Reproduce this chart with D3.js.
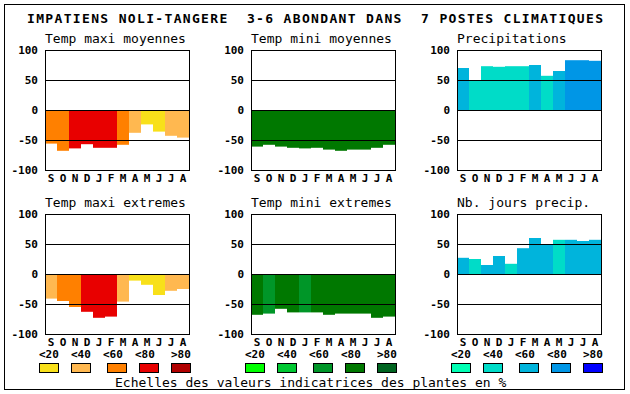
<!DOCTYPE html>
<html lang="fr">
<head>
<meta charset="UTF-8">
<title>Impatiens noli-tangere</title>
<script src="https://d3js.org/d3.v7.min.js"></script>
<style>
  body { margin: 0; background: #fff; }
  text { font-family: "DejaVu Sans Mono", monospace; fill: #000; }
  .bold { font-weight: bold; }
</style>
</head>
<body>
<script>
// months shown under each panel
var months = ["S", "O", "N", "D", "J", "F", "M", "A", "M", "J", "J", "A"];
var tickVals = [100, 50, 0, -50, -100];
var legendLabels = ["<20", "<40", "<60", "<80", ">80"];

// palettes (5 classes each)
var warmCols = ["#f8e01a", "#ffb850", "#ff8000", "#e80000", "#b00000"];
var greenCols = ["#00ff00", "#00c832", "#009628", "#007800", "#006420"];
var blueCols = ["#00ffb4", "#00dcc8", "#00b4dc", "#0096e6", "#0000ff"];

// values and class index per month
var maxiMoyVals = [-56, -68, -64, -57, -63, -63, -58, -38, -24, -36, -43, -46];
var maxiMoyCls  = [2, 2, 3, 3, 3, 3, 2, 1, 0, 0, 1, 1];
var miniMoyVals = [-61, -58, -61, -63, -64, -63, -66, -68, -66, -66, -63, -58];
var miniMoyCls  = [3, 3, 3, 3, 3, 3, 3, 3, 3, 3, 3, 3];
var precVals = [70, 50, 73, 72, 73, 73, 75, 57, 65, 83, 83, 82];
var precCls  = [2, 1, 1, 1, 1, 1, 2, 1, 2, 3, 3, 3];
var maxiExtVals = [-41, -45, -55, -63, -73, -71, -46, -11, -18, -35, -28, -25];
var maxiExtCls  = [1, 2, 2, 3, 3, 3, 1, 0, 0, 0, 1, 1];
var miniExtVals = [-68, -66, -58, -64, -64, -64, -68, -66, -66, -66, -73, -71];
var miniExtCls  = [3, 2, 3, 3, 2, 3, 3, 3, 3, 3, 3, 3];
var joursVals = [27, 25, 15, 30, 17, 43, 60, 50, 57, 57, 55, 57];
var joursCls  = [2, 1, 2, 2, 1, 2, 2, 2, 1, 2, 2, 2];

var panels = [
  {title: "Temp maxi moyennes", vals: maxiMoyVals, cls: maxiMoyCls, pal: warmCols, col: 0, row: 0},
  {title: "Temp mini moyennes", vals: miniMoyVals, cls: miniMoyCls, pal: greenCols, col: 1, row: 0},
  {title: "Precipitations", vals: precVals, cls: precCls, pal: blueCols, col: 2, row: 0},
  {title: "Temp maxi extremes", vals: maxiExtVals, cls: maxiExtCls, pal: warmCols, col: 0, row: 1},
  {title: "Temp mini extremes", vals: miniExtVals, cls: miniExtCls, pal: greenCols, col: 1, row: 1},
  {title: "Nb. jours precip.", vals: joursVals, cls: joursCls, pal: blueCols, col: 2, row: 1}
];

var width = 630, height = 394;
var colLeft = [45, 251, 457];
var rowTop = [50, 214];
var pw = 144, ph = 120;

var svg = d3.select("body").append("svg")
  .attr("width", width)
  .attr("height", height);

// outer frame
svg.append("rect")
  .attr("x", 4.5).attr("y", 4.5)
  .attr("width", 620).attr("height", 385)
  .attr("fill", "none").attr("stroke", "#000");

svg.append("text")
  .attr("class", "bold")
  .attr("x", 27).attr("y", 23)
  .attr("font-size", 13)
  .attr("textLength", 576)
  .attr("lengthAdjust", "spacing")
  .style("white-space", "pre")
  .text("IMPATIENS NOLI-TANGERE  3-6 ABONDANT DANS  7 POSTES CLIMATIQUES");

panels.forEach(function (p) {
  var left = colLeft[p.col], top = rowTop[p.row];
  var x = d3.scaleBand().domain(d3.range(12)).range([left, left + pw]);
  var y = d3.scaleLinear().domain([-100, 100]).range([top + ph, top]);
  var g = svg.append("g");

  g.append("text")
    .attr("x", left).attr("y", top - 7)
    .attr("font-size", 13)
    .text(p.title);

  g.selectAll("rect.bar")
    .data(p.vals)
    .enter().append("rect")
    .attr("class", "bar")
    .attr("x", function (d, i) { return x(i); })
    .attr("width", x.bandwidth())
    .attr("y", function (d) { return y(Math.max(0, d)); })
    .attr("height", function (d) { return Math.abs(y(d) - y(0)); })
    .attr("fill", function (d, i) { return p.pal[p.cls[i]]; });

  // horizontal rules
  g.selectAll("line.grid")
    .data([50, 0, -50])
    .enter().append("line")
    .attr("x1", left).attr("x2", left + pw)
    .attr("y1", function (d) { return Math.round(y(d)) + 0.5; })
    .attr("y2", function (d) { return Math.round(y(d)) + 0.5; })
    .attr("stroke", "#000");

  g.append("rect")
    .attr("x", left + 0.5).attr("y", top + 0.5)
    .attr("width", pw).attr("height", ph)
    .attr("fill", "none").attr("stroke", "#000");

  g.selectAll("text.tick")
    .data(tickVals)
    .enter().append("text")
    .attr("class", "tick bold")
    .attr("x", left - 7)
    .attr("y", function (d) { return y(d) + 4; })
    .attr("text-anchor", "end")
    .attr("font-size", 11)
    .text(function (d) { return d; });

  g.selectAll("text.month")
    .data(months)
    .enter().append("text")
    .attr("class", "month bold")
    .attr("x", function (d, i) { return x(i) + x.bandwidth() / 2; })
    .attr("y", top + ph + 12)
    .attr("text-anchor", "middle")
    .attr("font-size", 11)
    .text(function (d) { return d; });
});

// legends
var legOffsets = [0, 32, 68, 100, 132];
var labOffsets = [0, 32, 64, 96, 132];
[warmCols, greenCols, blueCols].forEach(function (pal, k) {
  var x0 = colLeft[k] - 6;
  var lg = svg.append("g");
  lg.selectAll("text")
    .data(legendLabels)
    .enter().append("text")
    .attr("class", "bold")
    .attr("x", function (d, i) { return x0 + labOffsets[i]; })
    .attr("y", 358)
    .attr("font-size", 11)
    .text(function (d) { return d; });
  lg.selectAll("rect")
    .data(pal)
    .enter().append("rect")
    .attr("x", function (d, i) { return x0 + legOffsets[i] + 0.5; })
    .attr("y", 363.5)
    .attr("width", 19).attr("height", 9)
    .attr("fill", function (d) { return d; })
    .attr("stroke", "#000");
});

svg.append("text")
  .attr("x", 115).attr("y", 387)
  .attr("font-size", 13)
  .text("Echelles des valeurs indicatrices des plantes en %");
</script>
</body>
</html>
